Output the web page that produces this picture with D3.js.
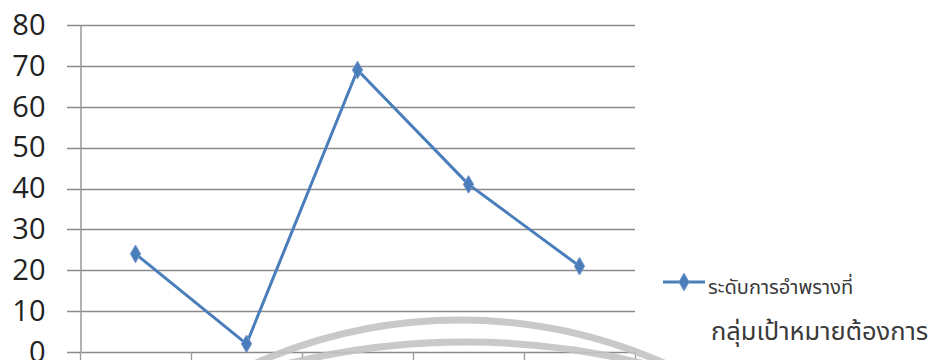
<!DOCTYPE html>
<html><head><meta charset="utf-8">
<script src="https://cdn.jsdelivr.net/npm/d3@7"></script>
<style>body{margin:0;background:#fff}svg{display:block}</style>
</head><body>
<script>
const categories = ["1","2","3","4","5"];
const values = [24, 2, 69, 41, 21];
const yTicks = [0,10,20,30,40,50,60,70,80];
const seriesName = ["ระดับการอำพรางที่","กลุ่มเป้าหมายต้องการ"];

const W = 929, H = 360;
const svg = d3.select("body").append("svg").attr("width", W).attr("height", H);

const x = d3.scaleBand().domain(categories).range([80, 635]);
const y = d3.scaleLinear().domain([0, 80]).range([352, 25]);

// gridlines
svg.append("g").selectAll("line").data(yTicks).join("line")
  .attr("x1", 67).attr("x2", 635)
  .attr("y1", d => Math.round(y(d)) + 0.5).attr("y2", d => Math.round(y(d)) + 0.5)
  .attr("stroke", "#8a8a8a").attr("stroke-width", 1.3);

// y axis
const yAxis = svg.append("g").attr("transform", "translate(80.5,0)")
  .call(d3.axisLeft(y).tickValues(yTicks).tickSize(0).tickPadding(35));
yAxis.select(".domain").attr("stroke", "#999").attr("stroke-width", 1.5);
yAxis.selectAll("text").attr("font-family", "Open Sans, Liberation Sans, sans-serif")
  .attr("font-size", 29).attr("font-weight", 500).attr("fill", "#222");

// category tick marks
const xb = categories.map(c => x(c)).concat([x.range()[1]]);
svg.append("g").selectAll("line").data(xb).join("line")
  .attr("x1", d => Math.round(d) + 0.5).attr("x2", d => Math.round(d) + 0.5)
  .attr("y1", y(0)).attr("y2", y(0) + 12)
  .attr("stroke", "#999").attr("stroke-width", 1.3);

// watermark arcs (decorative)
const wm = svg.append("g").attr("fill", "none").attr("stroke", "#c4c4c4").attr("stroke-width", 7).attr("opacity", 0.9);
wm.append("circle").attr("cx", 460).attr("cy", 825).attr("r", 505);
wm.append("circle").attr("cx", 466).attr("cy", 1080).attr("r", 738);

// line
const line = d3.line().x((d, i) => x(categories[i]) + x.bandwidth() / 2).y(d => y(d));
svg.append("path").datum(values).attr("d", line)
  .attr("fill", "none").attr("stroke", "#4a7ebb").attr("stroke-width", 3).attr("stroke-linejoin", "round");

const diamond = d3.symbol().type(d3.symbolDiamond).size(90);
svg.append("g").selectAll("path").data(values).join("path")
  .attr("d", diamond)
  .attr("transform", (d, i) => `translate(${x(categories[i]) + x.bandwidth() / 2},${y(d)})`)
  .attr("fill", "#4a7ebb").attr("stroke", "#6f94c8").attr("stroke-width", 1);

// legend
const lg = svg.append("g");
lg.append("line").attr("x1", 663).attr("x2", 705).attr("y1", 282).attr("y2", 282)
  .attr("stroke", "#4a7ebb").attr("stroke-width", 3);
lg.append("path").attr("d", diamond).attr("transform", "translate(684,282)")
  .attr("fill", "#4a7ebb").attr("stroke", "#6f94c8");
lg.selectAll("text").data(seriesName).join("text")
  .attr("x", (d, i) => i === 0 ? 708 : 711)
  .attr("y", (d, i) => i === 0 ? 294 : 340)
  .attr("font-family", "Noto Sans Thai, Noto Sans, sans-serif")
  .attr("font-size", (d, i) => i === 0 ? 20 : 25.5).attr("fill", "#3a3a3a")
  .text(d => d);
</script>
</body></html>
